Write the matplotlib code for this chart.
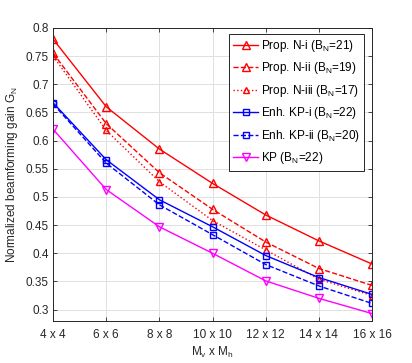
import matplotlib
matplotlib.use('Agg')
import matplotlib.pyplot as plt
import numpy as np

plt.rcParams['font.family'] = ['Liberation Sans', 'DejaVu Sans']
plt.rcParams['mathtext.fontset'] = 'custom'
plt.rcParams['mathtext.rm'] = 'Liberation Sans'
plt.rcParams['mathtext.it'] = 'Liberation Sans'

# tamaños de arreglo
etiquetas_x = ['4 x 4', '6 x 6', '8 x 8', '10 x 10', '12 x 12', '14 x 14', '16 x 16']

# ganancia normalizada por esquema
prop_n_i = [0.780, 0.660, 0.585, 0.524, 0.468, 0.422, 0.381]
prop_n_ii = [0.755, 0.630, 0.543, 0.478, 0.420, 0.373, 0.343]
prop_n_iii = [0.750, 0.618, 0.527, 0.458, 0.406, 0.354, 0.325]
enh_kp_i = [0.667, 0.566, 0.495, 0.447, 0.396, 0.357, 0.327]
enh_kp_ii = [0.665, 0.560, 0.486, 0.433, 0.380, 0.342, 0.311]
kp = [0.620, 0.513, 0.447, 0.400, 0.351, 0.320, 0.293]

x = np.arange(len(etiquetas_x))

fig = plt.figure(figsize=(4.12, 3.63), dpi=100)
ax = fig.add_axes([0.129, 0.116, 0.774, 0.807])

rojo = '#ff0000'
azul = '#0000ff'
magenta = '#ff00ff'

ax.plot(x, prop_n_i, '-', color=rojo, marker='^', mfc='none', ms=6, lw=1,
        label=r'Prop. N-i (B$_\mathregular{N}$=21)')
ax.plot(x, prop_n_ii, '--', color=rojo, marker='^', mfc='none', ms=6, lw=1,
        label=r'Prop. N-ii (B$_\mathregular{N}$=19)')
ax.plot(x, prop_n_iii, ':', color=rojo, marker='^', mfc='none', ms=5, lw=1,
        label=r'Prop. N-iii (B$_\mathregular{N}$=17)')
ax.plot(x, enh_kp_i, '-', color=azul, marker='s', mfc='none', ms=4, lw=1,
        label=r'Enh. KP-i (B$_\mathregular{N}$=22)')
ax.plot(x, enh_kp_ii, '--', color=azul, marker='s', mfc='none', ms=4, lw=1,
        label=r'Enh. KP-ii (B$_\mathregular{N}$=20)')
ax.plot(x, kp, '-', color=magenta, marker='v', mfc='none', ms=6, lw=1,
        label=r'KP (B$_\mathregular{N}$=22)')

ax.set_xlim(0, len(x) - 1)
ax.set_ylim(0.28, 0.8)
ax.set_xticks(x)
ax.set_xticklabels(etiquetas_x)
ax.set_yticks([0.3, 0.35, 0.4, 0.45, 0.5, 0.55, 0.6, 0.65, 0.7, 0.75, 0.8])
ax.set_yticklabels(['0.3', '0.35', '0.4', '0.45', '0.5', '0.55', '0.6',
                    '0.65', '0.7', '0.75', '0.8'])

ax.grid(True, color='#e0e0e0', lw=0.7)
ax.set_axisbelow(True)
ax.tick_params(direction='in', top=True, right=True, labelsize=8.5,
               colors='#262626', length=3, width=0.6)
ax.tick_params(axis='y', pad=3)
ax.tick_params(axis='x', pad=6)
for s in ax.spines.values():
    s.set_color('#262626')
    s.set_linewidth(0.7)

ax.set_xlabel(r'M$_\mathregular{v}$ x M$_\mathregular{h}$', fontsize=8.5,
              color='#262626', labelpad=3)
ax.set_ylabel(r'Normalized beamforming gain G$_\mathregular{N}$', fontsize=8.5,
              color='#262626', labelpad=4)

leg = ax.legend(loc='upper right', bbox_to_anchor=(0.975, 0.98), fontsize=8.5,
                handlelength=2.1, handletextpad=0.25, borderpad=0.35,
                labelspacing=0.55, fancybox=False, framealpha=1,
                borderaxespad=0)
leg.get_frame().set_edgecolor('#262626')
leg.get_frame().set_linewidth(0.7)

fig.savefig('out.png', dpi=100)
